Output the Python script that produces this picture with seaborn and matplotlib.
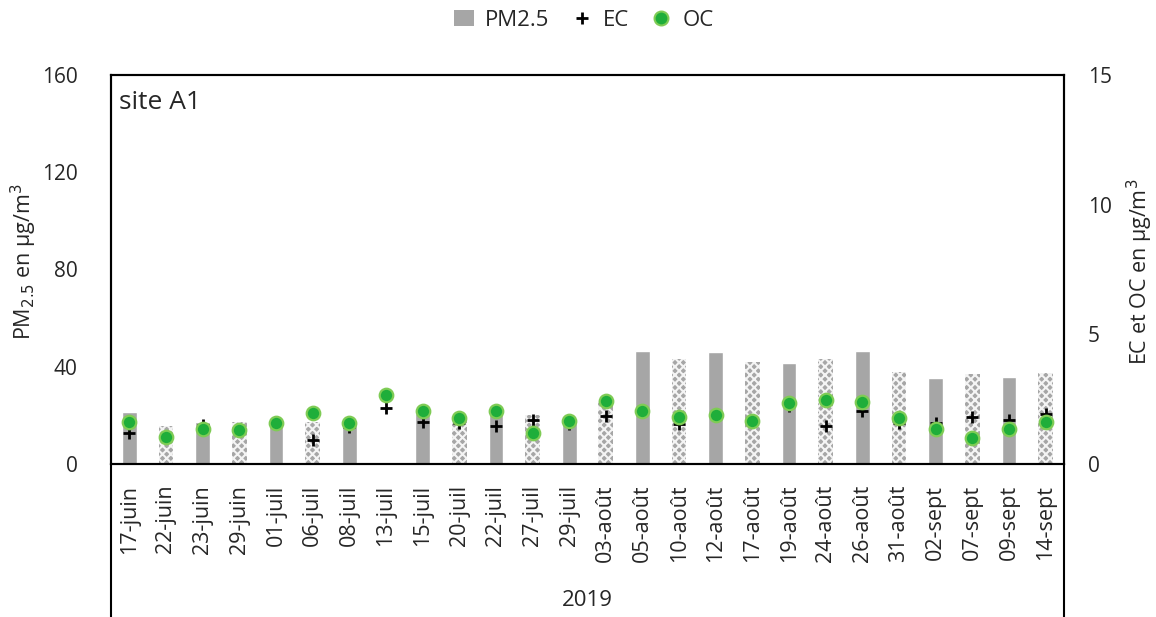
import numpy as np
import pandas as pd
import matplotlib
matplotlib.use("Agg")
import matplotlib.pyplot as plt
from matplotlib.lines import Line2D
from matplotlib.patches import Patch
import seaborn as sns

# Sampling dates (2019), site A1
dates = ['17-juin', '22-juin', '23-juin', '29-juin', '01-juil', '06-juil', '08-juil',
         '13-juil', '15-juil', '20-juil', '22-juil', '27-juil', '29-juil', '03-août',
         '05-août', '10-août', '12-août', '17-août', '19-août', '24-août', '26-août',
         '31-août', '02-sept', '07-sept', '09-sept', '14-sept']

# PM2.5 mass concentration (µg/m3); no filter on 13-juil
pm25 = [21.3, 15.8, 17.3, 17.3, 17.0, 17.2, 17.0, np.nan, 21.0, 19.0, 21.0, 20.2, 18.5,
        26.0, 46.5, 43.1, 46.0, 42.0, 41.4, 43.3, 46.5, 37.9, 35.5, 37.0, 35.9, 37.3]

# Elemental and organic carbon (µg/m3)
ec = [1.21, 1.00, 1.50, 1.30, 1.57, 0.93, 1.43, 2.15, 1.61, 1.58, 1.48, 1.70, 1.54,
      1.85, 2.00, 1.53, 1.90, 1.67, 2.24, 1.48, 2.04, 1.60, 1.59, 1.80, 1.70, 1.92]
oc = [1.63, 1.05, 1.35, 1.30, 1.57, 1.95, 1.57, 2.66, 2.06, 1.76, 2.04, 1.21, 1.67,
      2.43, 2.06, 1.80, 1.90, 1.67, 2.36, 2.47, 2.40, 1.76, 1.35, 0.99, 1.35, 1.63]

# Filters drawn with a patterned fill
hatched = [False, True, False, True, False, True, False, True, False, True, False, True, False,
           True, False, True, False, True, False, True, False, True, False, True, False, True]

left_ticks = [0, 40, 80, 120, 160]
right_ticks = [0, 5, 10, 15]

sns.set_theme(style="white")
plt.rcParams['font.family'] = ['Open Sans', 'DejaVu Sans']
plt.rcParams['hatch.linewidth'] = 1.5

W, H = 1156, 617
fig = plt.figure(figsize=(W / 100, H / 100), dpi=100)
x0, x1, y_top, y_bot = 111, 1064, 75, 464
ax = fig.add_axes([x0 / W, 1 - y_bot / H, (x1 - x0) / W, (y_bot - y_top) / H])

bar_grey = '#a6a6a6'
df = pd.DataFrame({'date': dates, 'pm25': pm25})
sns.barplot(data=df, x='date', y='pm25', order=dates, color=bar_grey, saturation=1,
            width=0.4, ax=ax, zorder=2)

for p in ax.patches:
    if np.isnan(p.get_height()):
        continue
    idx = int(round(p.get_x() + p.get_width() / 2))
    if hatched[idx]:
        p.set_hatch('xxxx')
        p.set_edgecolor('#f4f4f4')
        p.set_linewidth(0)

ax.set_ylim(0, 160)
ax.set_xlim(-0.5, len(dates) - 0.5)
ax.set_yticks(left_ticks)
ax.set_xticks(np.arange(len(dates)))
ax.set_xticklabels(dates, rotation=90, fontsize=15.5)
ax.tick_params(axis='x', length=0, pad=15)
ax.tick_params(axis='y', length=0, pad=24, labelsize=15)
ax.set_xlabel('')
ax.set_ylabel('')

ax2 = ax.twinx()
xpos = np.arange(len(dates))
sns.scatterplot(x=xpos, y=ec, marker='+', color='black', s=70, linewidth=2.0,
                ax=ax2, zorder=3, legend=False)
sns.scatterplot(x=xpos, y=oc, marker='o', color='#1fae3a', edgecolor='#7fcc55',
                linewidth=1.6, s=95, ax=ax2, zorder=4, legend=False)
ax2.set_ylim(0, 15)
ax2.set_xlim(-0.5, len(dates) - 0.5)
ax2.set_yticks(right_ticks)
ax2.tick_params(axis='y', length=0, pad=17, labelsize=15)
ax2.set_ylabel('')

for a in (ax, ax2):
    for s in a.spines.values():
        s.set_color('black')
        s.set_linewidth(1.5)
        s.set_visible(True)

# Category box below the plot
for xp in (x0, x1):
    fig.add_artist(Line2D([xp / W, xp / W], [0, 1 - y_bot / H], color='black',
                          linewidth=1.5, transform=fig.transFigure))

fig.text(((x0 + x1) / 2) / W, 1 - 601 / H, '2019', ha='center', va='center', fontsize=16)
ax.text(0.008, 0.93, 'site A1', transform=ax.transAxes, ha='left', va='center', fontsize=19)

fig.text(24 / W, 1 - 262 / H, r'PM$_{2.5}$ en µg/m$^3$', rotation=90,
         ha='center', va='center', fontsize=15.5)
fig.text(1140 / W, 1 - 272 / H, r'EC et OC en µg/m$^3$', rotation=90,
         ha='center', va='center', fontsize=15.5)

handles = [
    Patch(facecolor=bar_grey, edgecolor='none', label='PM2.5'),
    Line2D([], [], marker='+', color='black', linestyle='none', markersize=9,
           markeredgewidth=2, label='EC'),
    Line2D([], [], marker='o', color='#1fae3a', markeredgecolor='#7fcc55', linestyle='none',
           markersize=10, markeredgewidth=1.5, label='OC'),
]
fig.legend(handles=handles, loc='center', bbox_to_anchor=(584 / W, 1 - 20 / H), ncol=3,
           frameon=False, fontsize=16, handlelength=0.9, handletextpad=0.5,
           columnspacing=1.0, borderaxespad=0)

fig.savefig('out.png', dpi=100)
